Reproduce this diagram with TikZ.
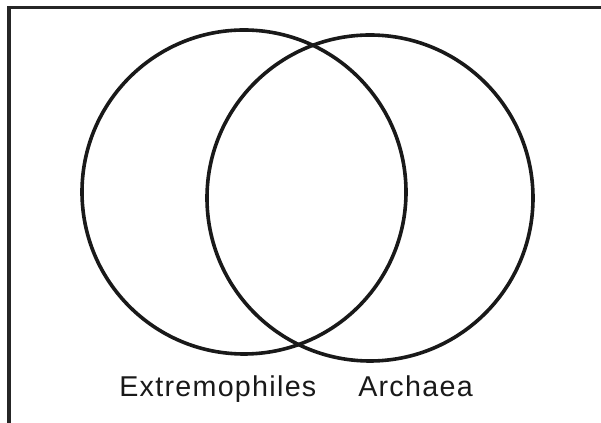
\documentclass[tikz,border=0pt]{standalone}
\usepackage{fontspec}
\newfontfamily\lblfont[LetterSpace=4.5]{Liberation Sans}
\begin{document}
\begin{tikzpicture}[x=0.75pt,y=-0.75pt,
  ring/.style={line width=2.7pt,draw=black!90},
  frameline/.style={line width=2.5pt,draw=black!85},
  lbl/.style={anchor=base west,inner sep=0pt,font=\lblfont\fontsize{21.5pt}{25pt}\selectfont,text=black!90}]
\useasboundingbox (0,0) rectangle (601,423);
\coordinate (tl) at (9,7.5);
\coordinate (tr) at (601,7.5);
\coordinate (bl) at (9,423);
\draw[frameline] (tr) -- (tl) -- (bl);
\draw[ring] (244,192) circle[radius=162];
\draw[ring] (370,198) circle[radius=163];
\node[lbl] (ext) at (119,397) {Extremophiles};
\node[lbl] (arc) at (358,397) {Archaea};
\end{tikzpicture}
\end{document}
